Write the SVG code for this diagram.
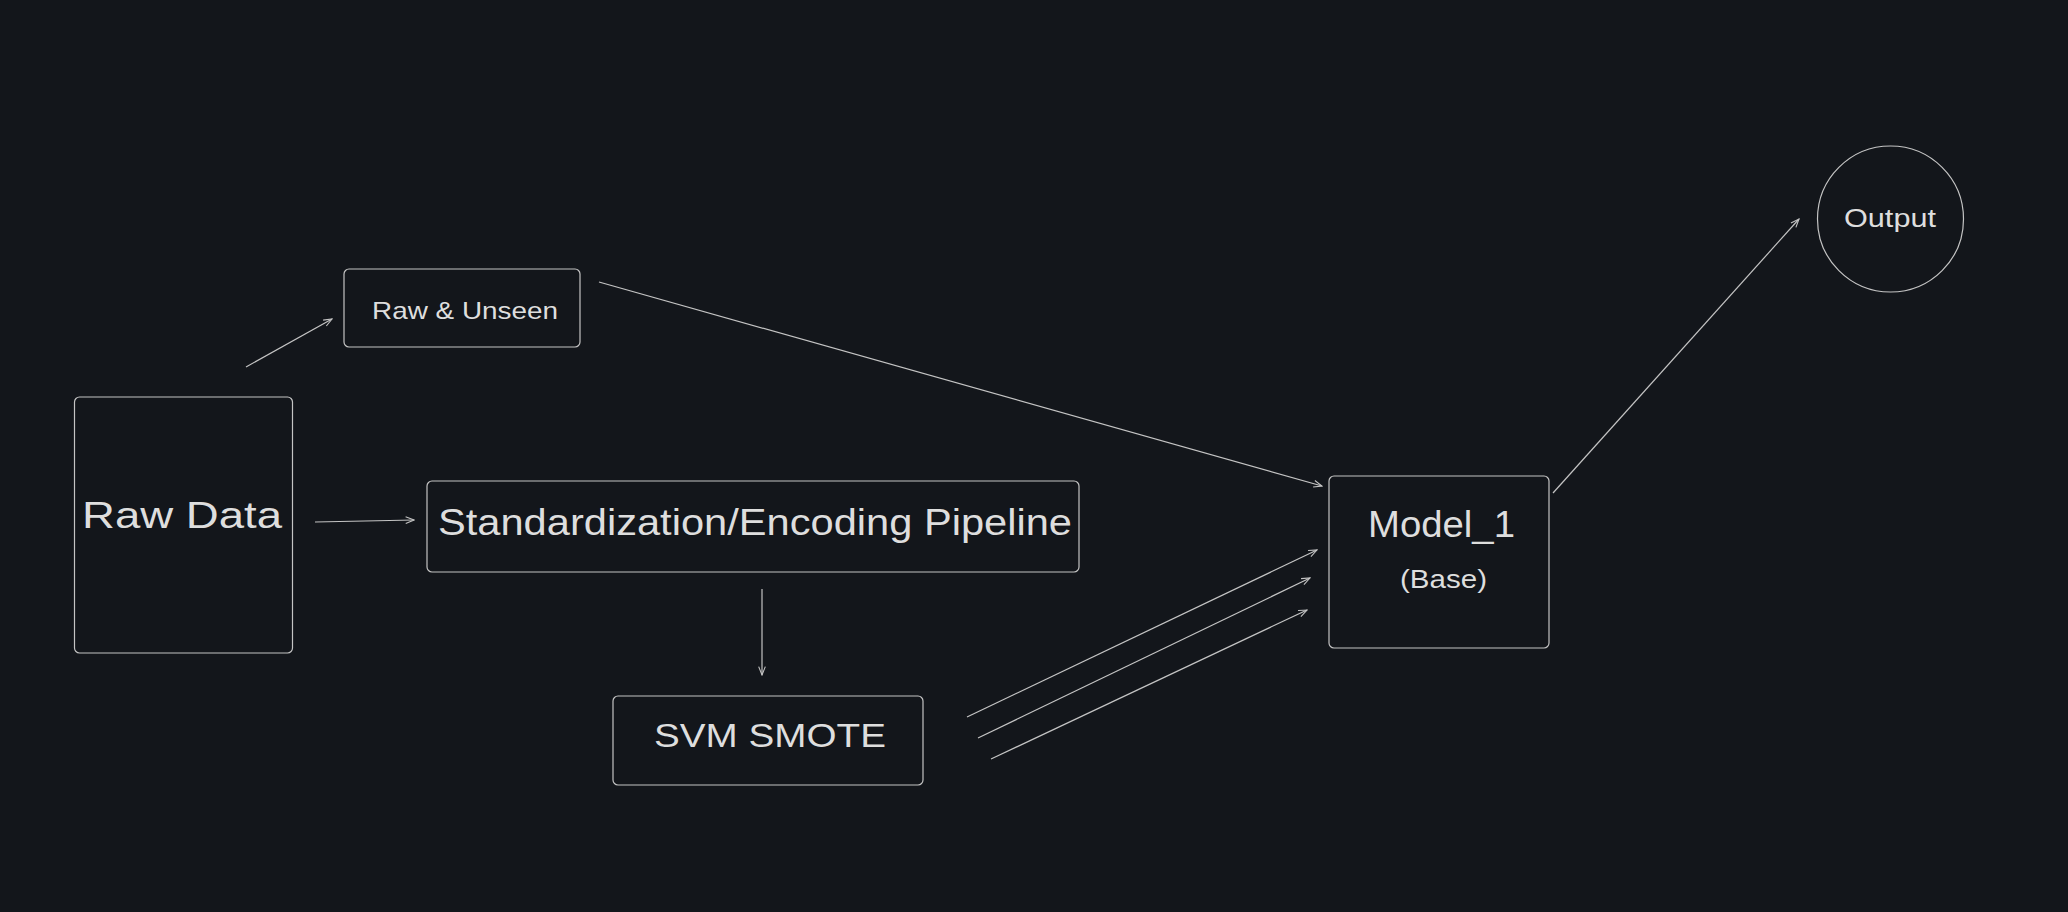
<svg xmlns="http://www.w3.org/2000/svg" width="2068" height="912" viewBox="0 0 2068 912">
<style>
.bg{fill:#13161b}
.box{fill:none;stroke:#c4c4c4;stroke-width:1.2}
.lbl{fill:#dedede;font-family:"Liberation Sans","DejaVu Sans",sans-serif}
.edge{fill:none;stroke:#c4c4c4;stroke-width:1.2;marker-end:url(#ah)}
</style>
<defs>
<marker id="ah" viewBox="0 0 12 12" refX="11" refY="6" markerWidth="10" markerHeight="10" markerUnits="userSpaceOnUse" orient="auto">
<path d="M1,2 L11,6 L1,10" fill="none" stroke="#c4c4c4" stroke-width="1.3"/>
</marker>
</defs>
<rect class="bg" x="0" y="0" width="2068" height="912"/>
<g id="connectors">
<line class="edge" x1="246" y1="367" x2="332" y2="319"/>
<line class="edge" x1="315" y1="522" x2="414" y2="520"/>
<line class="edge" x1="762" y1="589" x2="762" y2="675"/>
<line class="edge" x1="599" y1="282" x2="1322" y2="486"/>
<line class="edge" x1="967" y1="717" x2="1317" y2="550"/>
<line class="edge" x1="978" y1="738" x2="1310" y2="578"/>
<line class="edge" x1="991" y1="759" x2="1307" y2="610"/>
<line class="edge" x1="1553" y1="493" x2="1799" y2="219"/>
</g>
<g id="raw-data">
<rect class="box" x="74.5" y="397" width="218" height="256" rx="5"/>
<text class="lbl" x="82" y="528" font-size="36" textLength="200" lengthAdjust="spacingAndGlyphs">Raw Data</text>
</g>
<g id="raw-unseen">
<rect class="box" x="344" y="269" width="236" height="78" rx="5"/>
<text class="lbl" x="372" y="319" font-size="24" textLength="186" lengthAdjust="spacingAndGlyphs">Raw &amp; Unseen</text>
</g>
<g id="pipeline">
<rect class="box" x="427" y="481" width="652" height="91" rx="5"/>
<text class="lbl" x="438" y="535" font-size="36" textLength="634" lengthAdjust="spacingAndGlyphs">Standardization/Encoding Pipeline</text>
</g>
<g id="svm-smote">
<rect class="box" x="613" y="696" width="310" height="89" rx="5"/>
<text class="lbl" x="654" y="747" font-size="34" textLength="232" lengthAdjust="spacingAndGlyphs">SVM SMOTE</text>
</g>
<g id="model-1">
<rect class="box" x="1329" y="476" width="220" height="172" rx="5"/>
<text class="lbl" x="1368" y="537" font-size="36" textLength="147" lengthAdjust="spacingAndGlyphs">Model_1</text>
<text class="lbl" x="1400" y="588" font-size="26" textLength="87" lengthAdjust="spacingAndGlyphs">(Base)</text>
</g>
<g id="output">
<circle class="box" cx="1890.5" cy="219" r="73"/>
<text class="lbl" x="1844" y="227" font-size="25" textLength="92" lengthAdjust="spacingAndGlyphs">Output</text>
</g>
</svg>
